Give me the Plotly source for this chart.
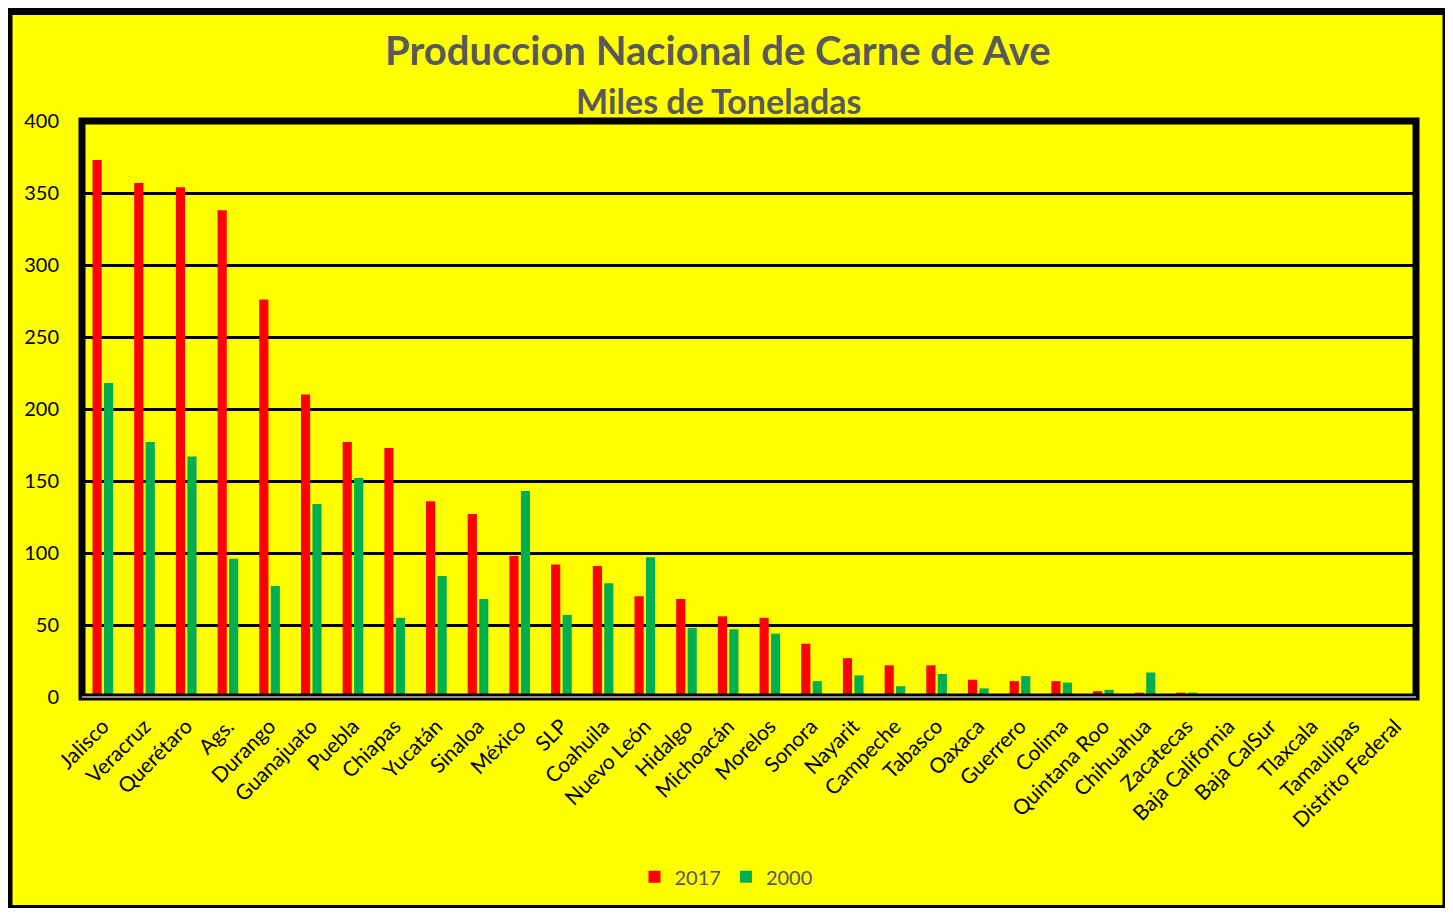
import plotly.graph_objects as go

estados = ["Jalisco", "Veracruz", "Querétaro", "Ags.", "Durango", "Guanajuato", "Puebla",
           "Chiapas", "Yucatán", "Sinaloa", "México", "SLP", "Coahuila", "Nuevo León",
           "Hidalgo", "Michoacán", "Morelos", "Sonora", "Nayarit", "Campeche", "Tabasco",
           "Oaxaca", "Guerrero", "Colima", "Quintana Roo", "Chihuahua", "Zacatecas",
           "Baja California", "Baja CalSur", "Tlaxcala", "Tamaulipas", "Distrito Federal"]
prod_2017 = [373, 357, 354, 338, 276, 210, 177, 173, 136, 127, 98, 92, 91, 70, 68, 56, 55,
             37, 27, 22, 22, 12, 11, 11, 4, 3, 3, 1.2, 0.3, 0.3, 0, 0]
prod_2000 = [218, 177, 167, 96, 77, 134, 152, 55, 84, 68, 143, 57, 79, 97, 48, 47, 44,
             11, 15, 7.5, 16, 6, 14.5, 10, 5, 17, 3, 0.3, 0.2, 0.6, 0, 2]
y_ticks = [0, 50, 100, 150, 200, 250, 300, 350, 400]

# page has an 8px body margin: work in screen pixels and subtract it
OFF = 8
W, H = 1453 - 2 * OFF, 916 - 2 * OFF
L, R, T, B = 82 - OFF, 1416 - OFF, 121 - OFF, 699.5 - OFF
pw, ph = R - L, B - T

def px(x):
    return (x - OFF - L) / pw

def py(y):
    return (B - (y - OFF)) / ph

fig = go.Figure()
fig.add_trace(go.Bar(x=estados, y=prod_2017, name="2017", marker_color="#FF0000",
                     marker_line_width=0))
fig.add_trace(go.Bar(x=estados, y=prod_2000, name="2000", marker_color="#00B050",
                     marker_line_width=0))

font_main = "Lato, 'Open Sans', sans-serif"

fig.update_layout(
    width=W, height=H,
    margin=dict(l=L, r=W - R, t=T, b=H - B, pad=0),
    paper_bgcolor="white",
    plot_bgcolor="rgba(0,0,0,0)",
    barmode="group",
    bargap=0.45,
    bargroupgap=0.2,
    font=dict(family=font_main, color="black"),
    showlegend=True,
    legend=dict(orientation="h", x=px(726), y=py(880), xanchor="center", yanchor="middle",
                font=dict(size=20, color="#595959"), bgcolor="rgba(0,0,0,0)",
                itemwidth=30, traceorder="normal"),
    xaxis=dict(tickangle=-45, tickfont=dict(size=21, color="black"), showgrid=False,
               showline=False, ticks="", ticklabelstandoff=12),
    yaxis=dict(range=[0, 400], tickvals=y_ticks, tickfont=dict(size=20, color="black"),
               showgrid=True, gridcolor="black", gridwidth=3, zeroline=False,
               showline=False, ticks="", ticklabelstandoff=22),
    shapes=[
        dict(type="rect", xref="paper", yref="paper", x0=px(9), x1=px(1446),
             y0=py(912), y1=py(11), fillcolor="#FFFF00",
             line=dict(color="black", width=7), layer="below"),
        dict(type="rect", xref="paper", yref="paper", x0=0, x1=1, y0=0, y1=1,
             line=dict(color="black", width=7), layer="above"),
        dict(type="line", xref="paper", yref="paper", x0=0, x1=1, y0=0, y1=0,
             line=dict(color="#BFBFBF", width=1.5), layer="above"),
    ],
    annotations=[
        dict(text="<b>Produccion Nacional de Carne de Ave</b>", xref="paper", yref="paper",
             x=px(718), y=py(50), xanchor="center", yanchor="middle", showarrow=False,
             font=dict(size=40, color="#595959", family=font_main)),
        dict(text="<b>Miles de Toneladas</b>", xref="paper", yref="paper",
             x=px(718), y=py(100), xanchor="center", yanchor="middle", showarrow=False,
             font=dict(size=34, color="#595959", family=font_main)),
    ],
)

fig.write_html("out.html")
